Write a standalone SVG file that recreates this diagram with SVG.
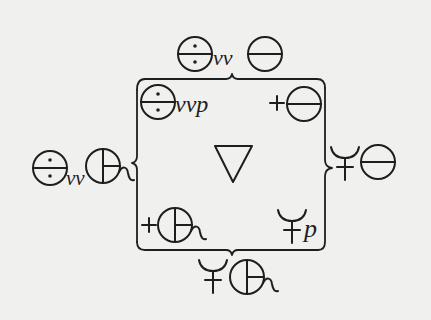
<svg xmlns="http://www.w3.org/2000/svg" xmlns:xlink="http://www.w3.org/1999/xlink" width="431" height="320" viewBox="0 0 431 320">
<style>
.s{fill:none;stroke:#1e1e1e;stroke-width:2;stroke-linecap:round;stroke-linejoin:round}
.d{fill:#1e1e1e}
.b{fill:none;stroke:#1e1e1e;stroke-width:1.8;stroke-linecap:round;stroke-linejoin:round}
.t{font-family:"Liberation Serif",serif;font-style:italic;fill:#1e1e1e}
</style>
<defs>
<g id="salt"><circle class="s" r="17"/><line class="s" x1="-17" y1="0" x2="17" y2="0"/></g>
<g id="saltd"><use xlink:href="#salt"/><circle class="d" cx="0" cy="-8" r="1.8"/><circle class="d" cx="0" cy="8" r="1.8"/></g>
<g id="cross"><circle class="s" r="17"/><line class="s" x1="0" y1="-17" x2="0" y2="17"/><line class="s" x1="0" y1="0" x2="17" y2="0"/><path class="s" d="M16,6 C19,0 24,0 25,7 C26,13 28,15 31,14"/></g>
<g id="trident"><path class="s" d="M-14,-16 Q-12,-5 0,-5 Q12,-5 14,-16"/><line class="s" x1="0" y1="-5" x2="0" y2="17"/><line class="s" x1="-8" y1="4" x2="8" y2="4"/></g>
<g id="plus"><line class="s" x1="-7" y1="0" x2="7" y2="0"/><line class="s" x1="0" y1="-7" x2="0" y2="7"/></g>
</defs>
<rect width="431" height="320" fill="#f0f0ee"/>
<g id="connectors">
<path class="b" d="M137,90 Q137,79 145,79 L226,79 Q231,79 232,74 Q233,79 238,79 L317,79 Q325,79 325,88"/>
<path class="b" d="M325,88 L325,160 Q325,167 332,168 Q325,169 325,176 L325,242 Q325,250 318,250"/>
<path class="b" d="M318,250 L238,250 Q233,250 232,255 Q231,250 226,250 L145,250 Q137,250 137,242"/>
<path class="b" d="M137,242 L137,170 Q137,164 132,163 Q137,162 137,156 L137,90"/>
</g>
<g id="node-top"><use xlink:href="#saltd" x="195" y="54"/><text class="t" x="213" y="65" font-size="22">vv</text><use xlink:href="#salt" x="265" y="54"/></g>
<g id="node-top-left"><use xlink:href="#saltd" x="158" y="102"/><text class="t" x="175" y="112" font-size="24">vvp</text></g>
<g id="node-top-right"><use xlink:href="#plus" x="277" y="103"/><use xlink:href="#salt" x="304" y="104"/></g>
<g id="node-left"><use xlink:href="#saltd" x="50" y="168"/><text class="t" x="66" y="185" font-size="21">vv</text><use xlink:href="#cross" x="103" y="166"/></g>
<g id="node-center"><polygon class="s" points="215,146 252,146 233,182"/></g>
<g id="node-right"><use xlink:href="#trident" x="345" y="163"/><use xlink:href="#salt" x="378" y="162"/></g>
<g id="node-bottom-left"><use xlink:href="#plus" x="149" y="225"/><use xlink:href="#cross" x="175" y="225"/></g>
<g id="node-bottom-right"><use xlink:href="#trident" x="292" y="226"/><text class="t" x="304" y="237" font-size="26">p</text></g>
<g id="node-bottom"><use xlink:href="#trident" x="213" y="276"/><use xlink:href="#cross" x="247" y="277"/></g>
</svg>
